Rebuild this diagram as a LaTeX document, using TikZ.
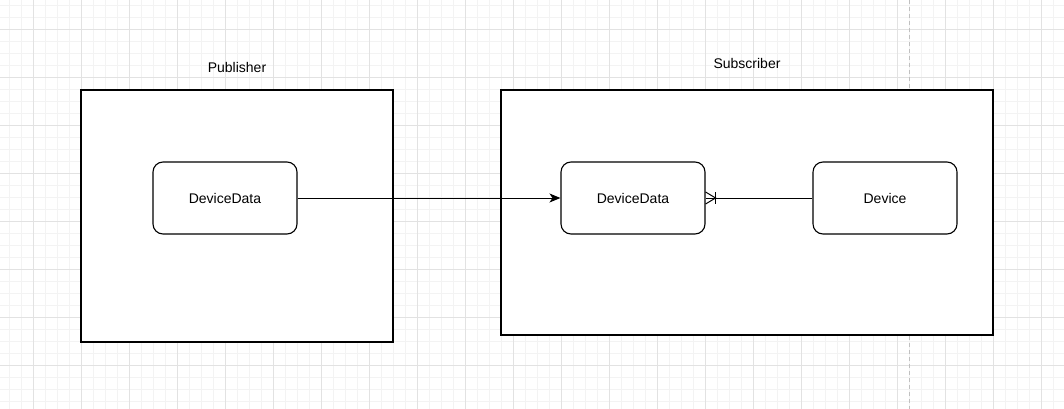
\documentclass[tikz,border=0pt]{standalone}
\usepackage{fontspec}
\setmainfont{Liberation Sans}
\usetikzlibrary{arrows.meta}
\definecolor{minorgrid}{HTML}{F3F3F3}
\definecolor{majorgrid}{HTML}{E2E2E2}
\definecolor{pagebreak}{HTML}{C0C0C0}
\begin{document}
\begin{tikzpicture}[x=1pt,y=-1pt,
  container/.style={draw=black,line width=1.1pt,fill=white},
  entity/.style={draw=black,line width=1.1pt,fill=white,rounded corners=10pt,
    minimum width=144pt,minimum height=72pt,inner sep=0pt,font=\fontsize{14}{16}\selectfont},
  title/.style={font=\fontsize{14}{16}\selectfont,inner sep=0pt},
  conn/.style={line width=1pt,draw=black}]
\useasboundingbox (0,0) rectangle (1064,409);
\fill[white] (0,0) rectangle (1064,409);
% grid
\foreach \x in {9,21,...,1064} \draw[minorgrid,line width=0.8pt] (\x,0) -- (\x,409);
\foreach \y in {5,17,...,409} \draw[minorgrid,line width=0.8pt] (0,\y) -- (1064,\y);
\foreach \x in {33,81,...,1064} \draw[majorgrid,line width=0.8pt] (\x,0) -- (\x,409);
\foreach \y in {29,77,...,409} \draw[majorgrid,line width=0.8pt] (0,\y) -- (1064,\y);
\draw[pagebreak,dashed,line width=0.8pt,dash pattern=on 4pt off 3pt] (909,0) -- (909,409);
% containers
\node[container,minimum width=312pt,minimum height=252pt,inner sep=0pt] (pub) at (237,216) {};
\node[container,minimum width=492pt,minimum height=245pt,inner sep=0pt] (sub) at (747,212.5) {};
\node[title] (pubt) at (237,67) {Publisher};
\node[title] (subt) at (747,63) {Subscriber};
% entities
\node[entity] (dd1) at (225,198) {DeviceData};
\node[entity] (dd2) at (633,198) {DeviceData};
\node[entity] (dev) at (885,198) {Device};
% connectors
\draw[conn,-{Stealth[length=11pt,width=9pt,inset=3pt]}] (dd1.east) -- (dd2.west);
\draw[conn] (dev.west) -- (dd2.east);
\draw[conn] ([yshift=6pt]dd2.east) -- ([xshift=10pt]dd2.east) -- ([yshift=-6pt]dd2.east);
\draw[conn] ([xshift=10pt,yshift=6pt]dd2.east) -- ([xshift=10pt,yshift=-6pt]dd2.east);
\end{tikzpicture}
\end{document}
